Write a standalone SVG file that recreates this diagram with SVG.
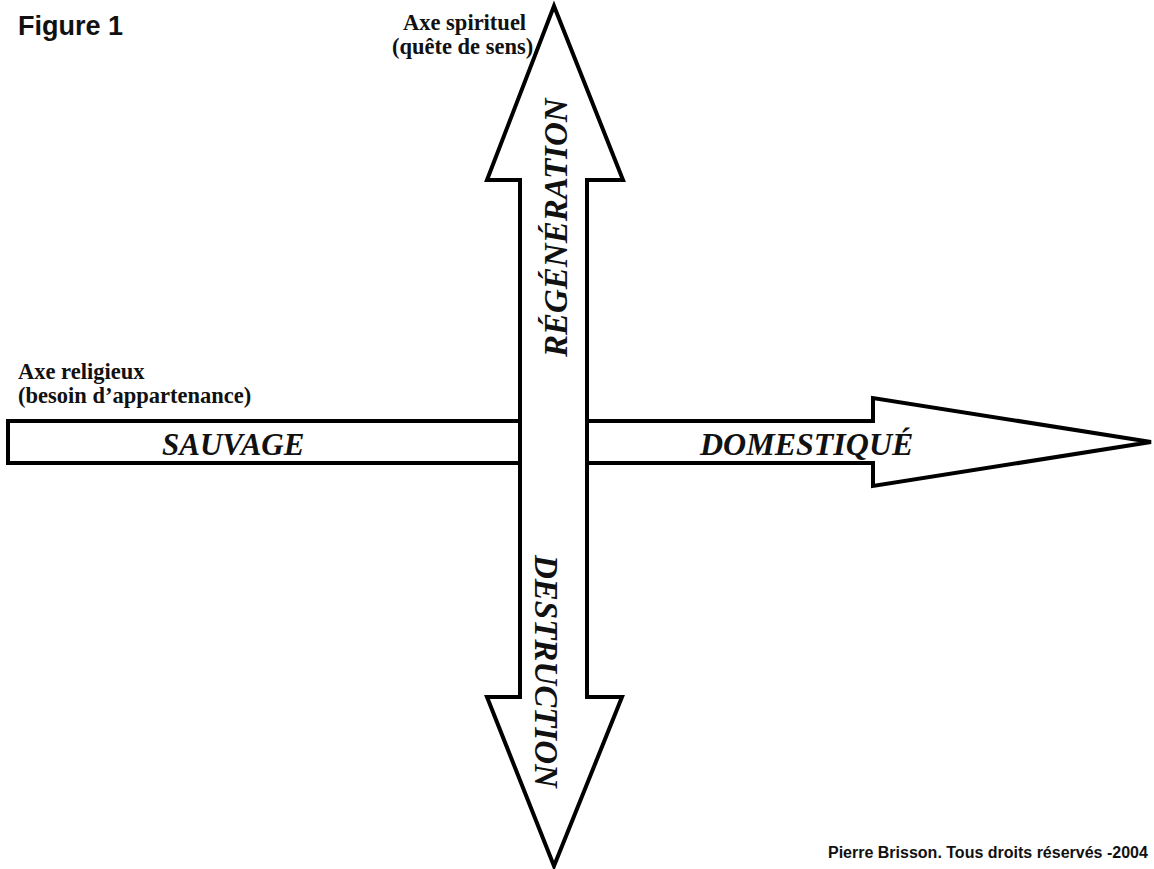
<svg xmlns="http://www.w3.org/2000/svg" width="1154" height="869" viewBox="0 0 1154 869">
<style>
.arrow{fill:#fff;stroke:#000;stroke-width:4;stroke-linejoin:miter}
.lbl{font-family:"Liberation Serif","Times New Roman",serif;font-weight:bold;font-size:22.5px;fill:#111}
.big{font-family:"Liberation Serif","Times New Roman",serif;font-weight:bold;font-style:italic;font-size:31px;fill:#111}
.vert{font-size:33px}
.sans{font-family:"Liberation Sans",Arial,sans-serif;font-weight:bold;fill:#111}
</style>
<rect width="1154" height="869" fill="#fff"/>
<g id="connectors">
<polygon id="axe-religieux" class="arrow" points="8,421 873,421 873,398 1151,442 873,486 873,463 8,463"/>
<polygon id="axe-spirituel" class="arrow" points="554,6 623,180 587,180 587,697 622,697 554,866 487,697 520,697 520,180 487,180"/>
</g>
<g id="title"><text class="sans" x="18" y="35" font-size="27">Figure 1</text></g>
<g id="label-spirituel">
<text class="lbl" x="403" y="30">Axe spirituel</text>
<text class="lbl" x="392" y="54">(quête de sens)</text>
</g>
<g id="label-religieux">
<text class="lbl" x="18" y="379">Axe religieux</text>
<text class="lbl" x="18" y="403">(besoin d’appartenance)</text>
</g>
<g id="sauvage"><text class="big" x="162" y="455">SAUVAGE</text></g>
<g id="domestique"><text class="big" x="700" y="455" style="font-size:32px">DOMESTIQUÉ</text></g>
<g id="regeneration"><text class="big vert" transform="translate(567,357) rotate(-90)">RÉGÉNÉRATION</text></g>
<g id="destruction"><text class="big vert" transform="translate(535,555) rotate(90)">DESTRUCTION</text></g>
<g id="copyright"><text class="sans" x="828" y="858" style="font-size:16px">Pierre Brisson. Tous droits réservés -2004</text></g>
</svg>
